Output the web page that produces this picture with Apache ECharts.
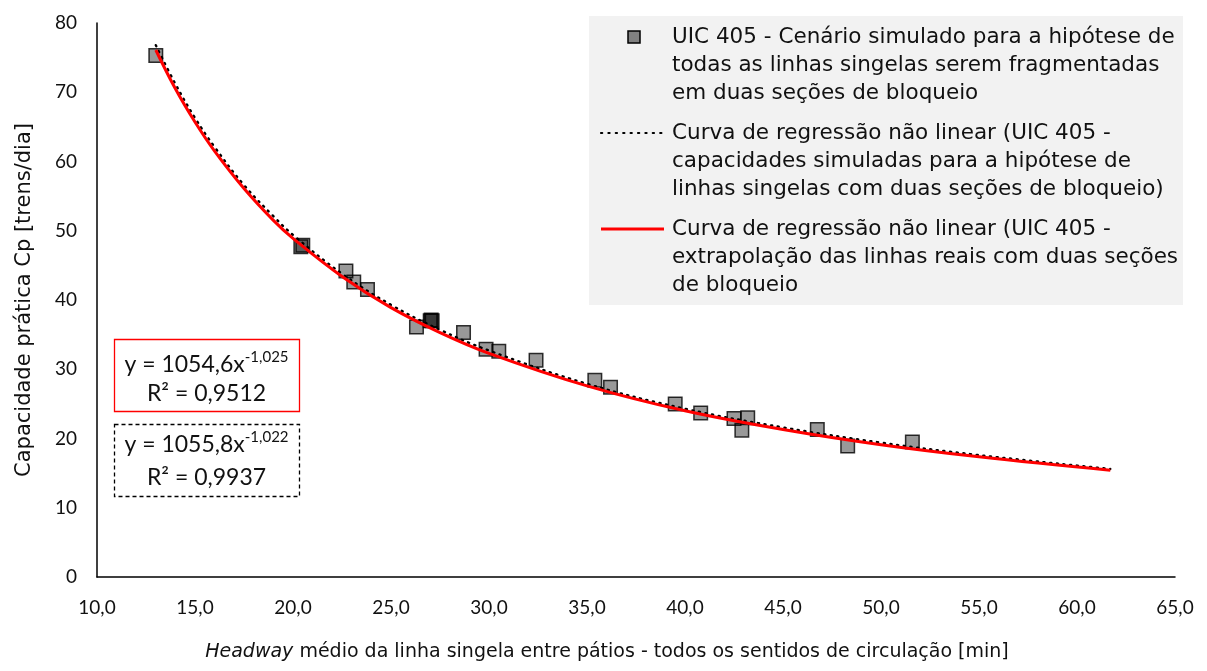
<!DOCTYPE html>
<html>
<head>
<meta charset="utf-8">
<script src="https://cdn.jsdelivr.net/npm/echarts@6/dist/echarts.min.js"></script>
<style>
html,body{margin:0;padding:0;background:#fff;}
#chart{width:1207px;height:671px;}
</style>
</head>
<body>
<div id="chart"></div>
<script>
// ---- data ----
const simX = [13.0, 20.4, 20.5, 22.7, 23.1, 23.8, 26.3, 27.0, 27.05, 27.1, 28.7, 29.85, 30.5, 32.4, 35.4, 36.2, 39.5, 40.8, 42.5, 43.2, 42.9, 46.75, 48.3, 51.6];
const simY = [75.3, 47.7, 47.9, 44.2, 42.6, 41.5, 36.1, 37.0, 37.1, 37.0, 35.3, 32.9, 32.6, 31.3, 28.4, 27.4, 25.0, 23.7, 22.9, 23.0, 21.2, 21.3, 18.9, 19.5];

const curveX = [13, 14, 15, 16, 17.5, 19, 20, 22.5, 25, 27.5, 30, 35, 40, 45, 50, 55, 61.7];
const dottedY = [76.8, 71.2, 66.3, 62.1, 56.6, 52.1, 49.4, 43.8, 39.3, 35.7, 32.7, 27.9, 24.3, 21.6, 19.4, 17.6, 15.6];
const redY    = [76.1, 70.5, 65.7, 61.5, 56.1, 51.5, 48.9, 43.4, 38.9, 35.3, 32.3, 27.6, 24.0, 21.3, 19.1, 17.35, 15.4];

const xTicks = [10, 15, 20, 25, 30, 35, 40, 45, 50, 55, 60, 65];
const yTicks = [0, 10, 20, 30, 40, 50, 60, 70, 80];

const legendNames = [
  ['UIC 405 - Cenário simulado para a hipótese de', 'todas as linhas singelas serem fragmentadas', 'em duas seções de bloqueio'],
  ['Curva de regressão não linear (UIC 405 -', 'capacidades simuladas para a hipótese de', 'linhas singelas com duas seções de bloqueio)'],
  ['Curva de regressão não linear (UIC 405 -', 'extrapolação das linhas reais com duas seções', 'de bloqueio']
];
const eqRed = ['y = 1054,6x', '-1,025', 'R² = 0,9512'];
const eqBlack = ['y = 1055,8x', '-1,022', 'R² = 0,9937'];

// ---- chart ----
const chart = echarts.init(document.getElementById('chart'), null, {renderer: 'canvas'});
const txtFont = '"DejaVu Sans", Verdana, sans-serif';
const numFont = 'Lato, "Open Sans", sans-serif';
const ink = '#111';

const legendGraphic = [];
legendGraphic.push({type: 'rect', shape: {x: 589, y: 16, width: 594, height: 289}, style: {fill: '#f2f2f2'}, silent: true, z: 1});
const lineYs = [[37, 65, 93], [133, 161, 189], [229, 257, 285]];
legendNames.forEach((lines, i) => {
  lines.forEach((t, j) => {
    legendGraphic.push({type: 'text', x: 672, y: lineYs[i][j], style: {text: t, font: '21.5px ' + txtFont, fill: ink, textVerticalAlign: 'middle'}, z: 2});
  });
});
legendGraphic.push({type: 'rect', shape: {x: 628, y: 31, width: 12, height: 12}, style: {fill: '#808080', stroke: '#000', lineWidth: 1.5}, z: 2});
legendGraphic.push({type: 'line', shape: {x1: 601, y1: 133, x2: 663, y2: 133}, style: {stroke: '#000', lineWidth: 2.2, lineDash: [1.2, 6.2], lineCap: 'round'}, z: 2});
legendGraphic.push({type: 'line', shape: {x1: 601, y1: 229, x2: 664, y2: 229}, style: {stroke: '#ff0000', lineWidth: 3}, z: 2});

function eqBox(top, eq, stroke, dash, o1, o2) {
  return [
    {type: 'rect', shape: {x: 114.5, y: top + 0.5, width: 185, height: 72}, style: {fill: '#fff', stroke: stroke, lineWidth: 1.3, lineDash: dash}, z: 3},
    {type: 'text', x: 206.5, y: top + o1, style: {
      text: '{a|' + eq[0] + '}{s|' + eq[1] + '}', align: 'center', verticalAlign: 'middle',
      rich: {a: {font: '23px ' + numFont, fill: ink, lineHeight: 30}, s: {font: '15px ' + numFont, fill: ink, lineHeight: 30, verticalAlign: 'top', padding: [0, 0, 12, 0]}}
    }, z: 4},
    {type: 'text', x: 206.5, y: top + o2, style: {text: eq[2], font: '23px ' + numFont, fill: ink, align: 'center', verticalAlign: 'middle'}, z: 4}
  ];
}

const option = {
  backgroundColor: '#fff',
  animation: false,
  grid: {left: 97, right: 32, top: 23, bottom: 94, containLabel: false},
  xAxis: {
    type: 'value', min: xTicks[0], max: xTicks[xTicks.length - 1], interval: 5,
    axisLine: {show: true, onZero: false, lineStyle: {color: '#000', width: 1.5}},
    axisTick: {show: false}, splitLine: {show: false},
    axisLabel: {formatter: v => v.toFixed(1).replace('.', ','), fontFamily: numFont, fontSize: 19, color: ink, margin: 21},
    name: '{i|Headway} médio da linha singela entre pátios - todos os sentidos de circulação [min]',
    nameLocation: 'middle', nameGap: 66,
    nameTextStyle: {fontFamily: txtFont, fontSize: 19, color: ink, padding: [0, 58, 0, 0], rich: {i: {fontFamily: txtFont, fontSize: 19, fontStyle: 'italic', color: ink}}}
  },
  yAxis: {
    type: 'value', min: yTicks[0], max: yTicks[yTicks.length - 1], interval: 10,
    axisLine: {show: true, lineStyle: {color: '#000', width: 1.5}},
    axisTick: {show: false}, splitLine: {show: false},
    axisLabel: {fontFamily: numFont, fontSize: 19, color: ink, margin: 20},
    name: 'Capacidade prática Cp [trens/dia]', nameLocation: 'middle', nameGap: 62,
    nameTextStyle: {fontFamily: txtFont, fontSize: 21, color: ink}
  },
  series: [
    {
      name: legendNames[0].join(' '), type: 'scatter', symbol: 'rect', symbolSize: 13.5,
      itemStyle: {color: 'rgba(0,0,0,0.5)', borderColor: '#000', borderWidth: 1.5},
      data: simX.map((x, i) => [x, simY[i]]), z: 2
    },
    {
      name: legendNames[1].join(' '), type: 'line', smooth: 0.4, showSymbol: false,
      lineStyle: {color: '#000', width: 2.4, type: [1.2, 5.5], cap: 'round'},
      data: curveX.map((x, i) => [x, dottedY[i]]), z: 3
    },
    {
      name: legendNames[2].join(' '), type: 'line', smooth: 0.4, showSymbol: false,
      lineStyle: {color: '#ff0000', width: 3},
      data: curveX.map((x, i) => [x, redY[i]]), z: 4
    }
  ],
  graphic: legendGraphic.concat(eqBox(339, eqRed, '#ff0000', null, 26, 55), eqBox(424, eqBlack, '#000', [4, 3], 21, 54))
};
chart.setOption(option);
</script>
</body>
</html>
